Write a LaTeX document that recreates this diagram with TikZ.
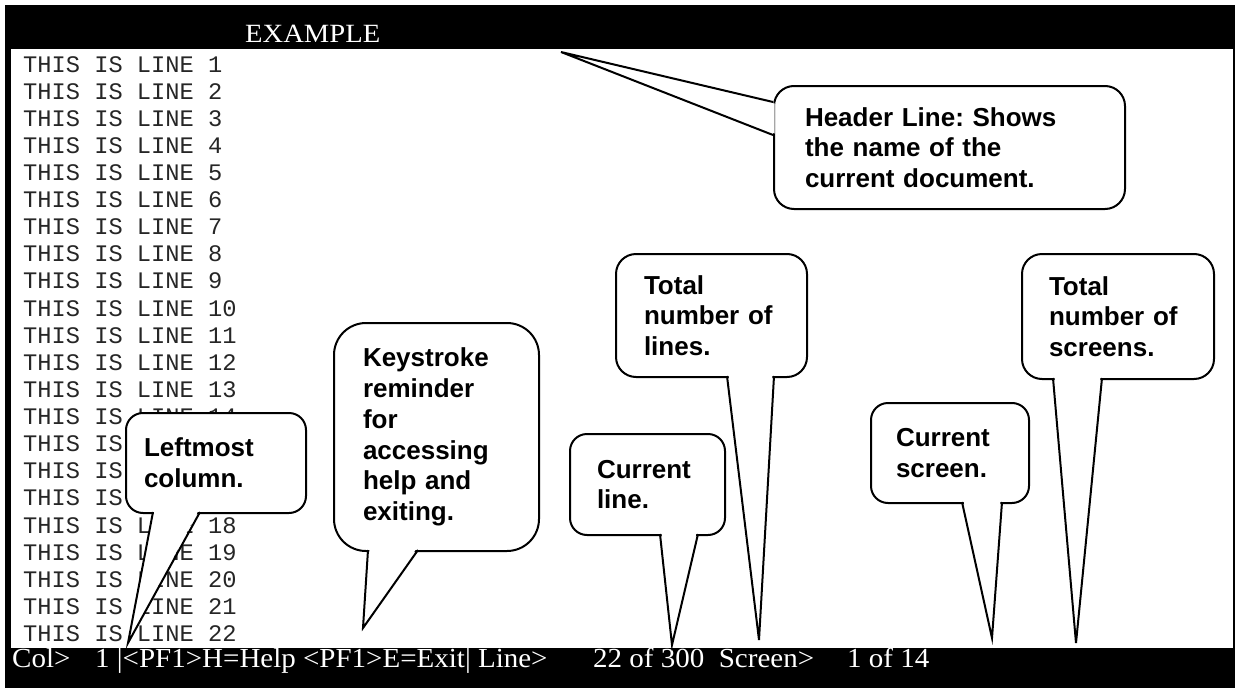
\documentclass[tikz,border=0pt]{standalone}
\usepackage{fontspec}
\setmainfont{Liberation Serif}
\setsansfont{Liberation Sans}
\setmonofont{Liberation Mono}
\usetikzlibrary{calc}
\tikzset{
  balloon/.style={draw=black, line width=2pt, fill=white, align=left, inner ysep=0pt,
    anchor=north west, rounded corners=#1,
    font=\frenchspacing\sffamily\bfseries\fontsize{26}{30.7}\selectfont},
  ptr/.style={draw=black, line width=2pt},
  mono/.style={anchor=base west, inner sep=0pt, text=black!85,
    font=\ttfamily\fontsize{23.7}{23.7}\selectfont},
  bartext/.style={anchor=base west, inner sep=0pt, text=white,
    font=\rmfamily\fontsize{29}{29}\selectfont}
}
\begin{document}
\begin{tikzpicture}[x=1pt,y=-1pt]
\useasboundingbox (0,0) rectangle (1235,688);
% screen frame
\fill[black] (5,5) rectangle (1235,688);
\fill[white] (11,49) rectangle (1233,648);
\node[anchor=base west, inner sep=0pt, text=white,
  font=\rmfamily\fontsize{28.6}{28.6}\selectfont] (title) at (245,42) {\scalebox{1}[0.92]{EXAMPLE}};
% text lines
\foreach \i in {1,...,22} {
  \node[mono] (l\i) at (23,{72+(\i-1)*27.12}) {THIS IS LINE \i};
}
% status bar
\node[bartext] (bar) at (12,667) {\scalebox{1}[0.95]{\rlap{Col>}\hspace{83pt}\rlap{1 |<PF1>H=Help <PF1>E=Exit| Line>}\hspace{498pt}\rlap{22 of 300\ \ Screen>}\hspace{254pt}1 of 14}};

% tips
\coordinate (hdrtip) at (561,52);
\coordinate (keytip) at (363,628);
\coordinate (lefttip) at (128,643);
\coordinate (curltip) at (672,645);
\coordinate (totltip) at (759,640);
\coordinate (curstip) at (992,638);
\coordinate (totstip) at (1076,643);

% Header balloon
\node[balloon=20, text width=289pt, inner xsep=31pt, minimum height=123pt] (hdr) at (773,85)
  {Header Line: Shows\\the name of the\\current document.};
\fill[white] (774.5,103.5) -- (hdrtip) -- (774.5,133.5) -- cycle;
\draw[ptr] (773,102) -- (hdrtip) -- (773,135);

% Keystroke balloon
\node[balloon=32, text width=147pt, inner xsep=29pt, minimum height=228pt] (key) at (333,322)
  {Keystroke\\reminder\\for\\accessing\\help and\\exiting.};
\fill[white] (369.5,548.5) -- (keytip) -- (416.5,548.5) -- cycle;
\draw[ptr] (368,550) -- (keytip) -- (418,550);

% Leftmost balloon
\node[balloon=17, text width=144pt, inner xsep=18pt, minimum height=100pt] (left) at (125,412)
  {Leftmost\\column.};
\fill[white] (154.5,510.5) -- (lefttip) -- (198.5,510.5) -- cycle;
\draw[ptr] (153,512) -- (lefttip) -- (200,512);

% Current line balloon
\node[balloon=17, text width=101pt, inner xsep=27pt, minimum height=101pt] (curl) at (569,433)
  {Current\\line.};
\fill[white] (661.5,532.5) -- (curltip) -- (696.5,532.5) -- cycle;
\draw[ptr] (660,534) -- (curltip) -- (698,534);

% Total lines balloon
\node[balloon=20, text width=135pt, inner xsep=28pt, minimum height=123pt] (totl) at (615,253)
  {Total\\number of\\lines.};
\fill[white] (728.5,374.5) -- (totltip) -- (772.5,374.5) -- cycle;
\draw[ptr] (727,376) -- (totltip) -- (774,376);

% Current screen balloon
\node[balloon=17, text width=108pt, inner xsep=25pt, minimum height=100pt] (curs) at (870,402)
  {Current\\screen.};
\fill[white] (963.5,500.5) -- (curstip) -- (1000.5,500.5) -- cycle;
\draw[ptr] (962,502) -- (curstip) -- (1002,502);

% Total screens balloon
\node[balloon=20, text width=138pt, inner xsep=27pt, minimum height=125pt] (tots) at (1021,253)
  {Total\\number of\\screens.};
\fill[white] (1054.5,376.5) -- (totstip) -- (1100.5,376.5) -- cycle;
\draw[ptr] (1053,378) -- (totstip) -- (1102,378);
\end{tikzpicture}
\end{document}
